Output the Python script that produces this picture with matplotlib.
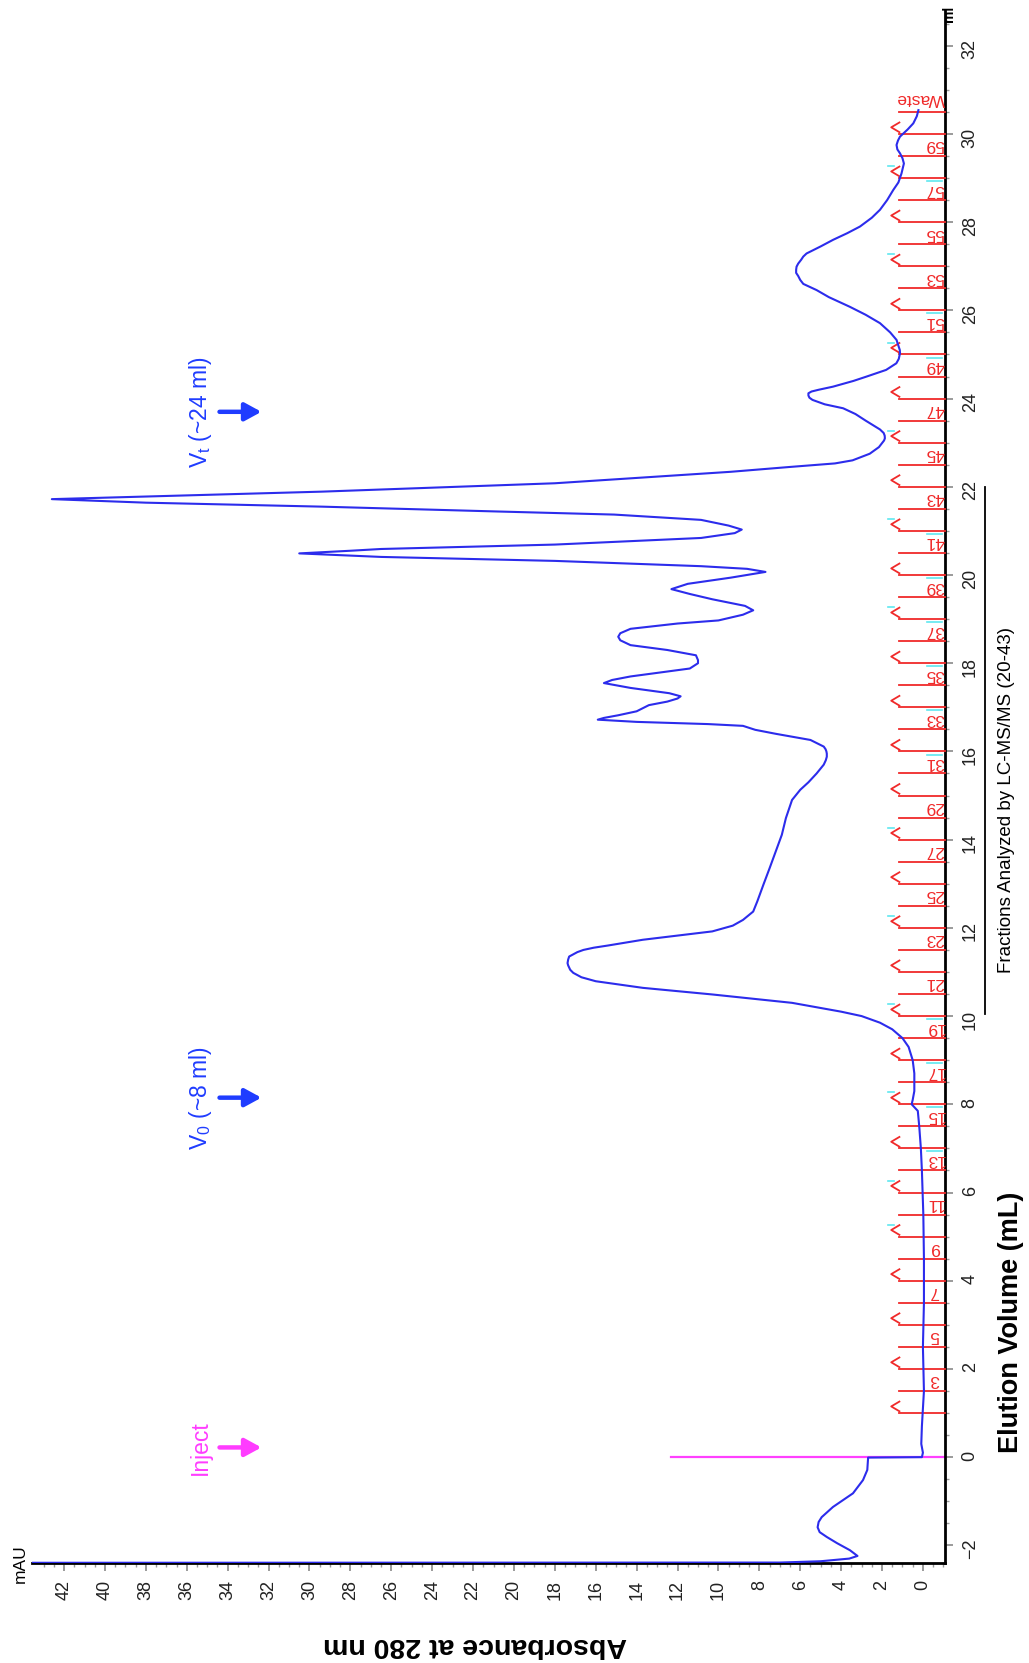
import numpy as np
import matplotlib
matplotlib.use("Agg")
import matplotlib.pyplot as plt

plt.rcParams['font.family'] = ['Liberation Sans', 'DejaVu Sans']
plt.rcParams['mathtext.fontset'] = 'custom'
plt.rcParams['mathtext.rm'] = 'Liberation Sans'
plt.rcParams['mathtext.it'] = 'Liberation Sans:italic'

# UV 280 nm trace: elution volume (mL) and absorbance (mAU)
volume = [-2.395, -2.39, -2.36, -2.30, -2.24, -2.11, -1.95, -1.81, -1.70, -1.59,
          -1.47, -1.36, -1.13, -0.82, -0.52, -0.29, -0.07, -0.01, 0.0, 0.1,
          0.3, 0.7, 1.5, 2.5, 3.5, 4.5, 5.5, 6.5, 7.0, 7.5,
          7.85, 8.0, 8.1, 8.3, 8.7, 9.0, 9.3, 9.5, 9.7, 9.85,
          10.0, 10.1, 10.3, 10.49, 10.64, 10.79, 10.88, 10.98, 11.05, 11.15,
          11.2, 11.28, 11.35, 11.4, 11.45, 11.5, 11.55, 11.6, 11.73, 11.92,
          12.05, 12.18, 12.37, 12.6, 12.98, 13.35, 13.73, 14.11, 14.49, 14.9,
          15.13, 15.3, 15.5, 15.7, 15.8, 15.88, 15.95, 16.0, 16.05, 16.11,
          16.26, 16.4, 16.49, 16.58, 16.62, 16.67, 16.72, 16.76, 16.82, 16.91,
          17.05, 17.13, 17.2, 17.25, 17.32, 17.44, 17.55, 17.62, 17.7, 17.88,
          18.0, 18.07, 18.18, 18.3, 18.41, 18.52, 18.6, 18.68, 18.78, 18.9,
          18.97, 19.1, 19.2, 19.3, 19.45, 19.57, 19.68, 19.8, 19.94, 20.07,
          20.14, 20.2, 20.32, 20.41, 20.49, 20.55, 20.59, 20.69, 20.84, 20.95,
          21.03, 21.12, 21.25, 21.37, 21.44, 21.55, 21.64, 21.72, 21.78, 21.89,
          22.08, 22.34, 22.45, 22.53, 22.6, 22.75, 22.9, 23.05, 23.1, 23.16,
          23.22, 23.3, 23.5, 23.65, 23.78, 23.87, 23.97, 24.02, 24.07, 24.12,
          24.16, 24.2, 24.27, 24.4, 24.5, 24.65, 24.8, 24.9, 25.03, 25.1,
          25.2, 25.33, 25.5, 25.71, 25.9, 26.08, 26.3, 26.46, 26.6, 26.69,
          26.78, 26.85, 26.92, 26.99, 27.06, 27.15, 27.22, 27.29, 27.45, 27.6,
          27.75, 27.9, 28.1, 28.28, 28.5, 28.73, 28.9, 29.1, 29.33, 29.45,
          29.56, 29.65, 29.75, 29.85, 29.94, 30.1, 30.24, 30.4, 30.54]
absorbance = [44.0, 7.0, 5.0, 3.6, 3.2, 3.57, 4.2, 4.7, 5.05, 5.15,
              5.1, 4.95, 4.4, 3.42, 2.93, 2.72, 2.69, 2.68, 0.05, 0.0,
              0.08, 0.05, -0.05, 0.0, -0.05, -0.05, -0.02, 0.05, 0.1, 0.18,
              0.25, 0.55, 0.5, 0.42, 0.42, 0.5, 0.7, 1.0, 1.5, 2.1,
              3.0, 4.0, 6.4, 10.3, 13.7, 16.0, 16.7, 17.1, 17.25, 17.35,
              17.38, 17.35, 17.3, 17.1, 16.9, 16.6, 16.1, 15.4, 13.7, 10.3,
              9.3, 8.8, 8.3, 8.1, 7.8, 7.5, 7.2, 6.9, 6.7, 6.4,
              6.0, 5.6, 5.2, 4.85, 4.75, 4.7, 4.7, 4.72, 4.76, 4.85,
              5.5, 7.2, 8.2, 8.8, 10.5, 14.0, 15.9, 15.6, 14.9, 14.0,
              13.4, 12.5, 12.0, 11.85, 12.4, 14.3, 15.6, 15.2, 14.3, 11.4,
              11.0, 11.0, 11.1, 12.5, 14.3, 14.8, 14.9, 14.8, 14.3, 12.0,
              10.0, 8.8, 8.3, 8.7, 10.3, 11.4, 12.3, 11.5, 9.4, 7.7,
              8.6, 10.85, 18.0, 26.5, 30.5, 28.0, 26.5, 18.0, 10.85, 9.2,
              8.86, 9.5, 10.85, 15.1, 20.8, 29.4, 38.0, 42.6, 38.0, 29.4,
              18.0, 9.4, 6.5, 4.3, 3.44, 2.6, 2.15, 1.9, 1.86, 1.87,
              1.92, 2.1, 2.8, 3.3, 3.9, 4.8, 5.4, 5.55, 5.6, 5.6,
              5.45, 5.1, 4.4, 3.4, 2.75, 1.8, 1.3, 1.18, 1.12, 1.13,
              1.2, 1.29, 1.6, 2.1, 2.8, 3.57, 4.6, 5.2, 5.85, 6.0,
              6.1, 6.2, 6.2, 6.18, 6.1, 5.95, 5.85, 5.69, 5.0, 4.39,
              3.7, 3.08, 2.5, 2.1, 1.75, 1.45, 1.2, 1.05, 0.93, 1.0,
              1.12, 1.25, 1.29, 1.22, 1.12, 0.75, 0.47, 0.3, 0.22]

# fraction collector: 0.5 mL fractions, odd numbers labelled, waste valve at the end
frac_first_edge = 1.0
frac_size = 0.5
frac_last_edge = 30.0
waste_volume = 30.5
frac_labels = list(range(3, 60, 2))
cyan_fracs = [13, 15, 17, 19, 31, 33, 35, 37, 39, 41, 49, 51, 57]
cyan_marks = [5, 6, 8, 10, 12, 14, 19, 21, 23, 25, 27, 29]

# injection mark and column volumes
inject_volume = 0.0
inject_height = 12.3
notes = ['Inject', r'V$_\mathregular{0}$ (~8 ml)', r'V$_\mathregular{t}$ (~24 ml)']
note_volumes = [0.22, 8.15, 23.7]
note_colors = ['#ff3cff', '#1f3cff', '#1f3cff']

trace_color = '#2c2cec'
frac_color = '#f02a2a'

fig = plt.figure(figsize=(10.29, 16.63), dpi=100)
ax = fig.add_axes([32 / 1029, 100 / 1663, 913 / 1029, 1553 / 1663])

ax.plot([-1.08, inject_height], [inject_volume, inject_volume], color='#ff40ff', lw=1.6, zorder=2)
ax.plot(absorbance, volume, color=trace_color, lw=1.5, zorder=4, solid_joinstyle='round')

# fraction boundaries
edges = np.arange(frac_first_edge, frac_last_edge + 0.01, frac_size)
for v in list(edges) + [waste_volume]:
    ax.plot([-1.08, 1.15], [v, v], color=frac_color, lw=1.3, zorder=3, clip_on=False)
for v in edges[::2]:
    ax.plot([1.15, 1.55, 1.15], [v + 0.04, v + 0.15, v + 0.26], color=frac_color, lw=1.3, zorder=3)
for n in frac_labels:
    ax.text(-0.58, frac_size * n + frac_size / 2, str(n), rotation=180, ha='center', va='center',
            color=frac_color, fontsize=12.5, zorder=3)
for n in cyan_fracs:
    v = frac_size * n + 0.43
    ax.plot([-0.95, -0.2], [v, v], color='#5fe8f0', lw=1.2, zorder=2)
for v in cyan_marks:
    ax.plot([1.4, 1.7], [v + 0.27, v + 0.27], color='#5fe8f0', lw=1.2, zorder=2)
ax.text(0.12, waste_volume + 0.3, 'Waste', rotation=180, ha='center', va='center',
        color=frac_color, fontsize=12.5, zorder=3)

# annotations with arrows
for label, v, c in zip(notes, note_volumes, note_colors):
    ax.text(35.35, v, label, rotation=90, ha='center', va='center', color=c, fontsize=16.5)
    ax.annotate('', xy=(32.35, v), xytext=(34.4, v),
                arrowprops=dict(arrowstyle='-|>,head_length=0.55,head_width=0.3', lw=3.2,
                                color=c, shrinkA=0, shrinkB=0, mutation_scale=18))

# bracket for the analysed fractions
ax.plot([-3.03, -3.03], [10.05, 22.0], color='black', lw=1.3, clip_on=False)

ax.set_xlim(43.57, -1.08)
ax.set_ylim(-2.40, 32.81)

for side in ['top', 'left']:
    ax.spines[side].set_visible(False)
for side in ['bottom', 'right']:
    ax.spines[side].set_linewidth(2.0)
    ax.spines[side].set_color('black')

ax.yaxis.tick_right()
ax.set_xticks(np.arange(0, 43, 2))
ax.set_xticks(np.arange(-1, 43.5, 0.5), minor=True)
ax.set_yticks(np.arange(-2, 33, 2))
ax.set_yticks(np.arange(-2.0, 32.6, 0.5), minor=True)
ax.tick_params(axis='both', which='major', direction='out', length=6, width=1.2,
               color='#8a8a8a', labelsize=13, labelcolor='#222222', labelrotation=90, pad=6)
ax.tick_params(axis='both', which='minor', direction='out', length=3, width=1.0, color='#9a9a9a')
ax.tick_params(axis='y', which='both', left=False, right=True)

fig.text(20 / 1029, 1 - 1564 / 1663, 'mAU', rotation=90, ha='center', va='center', fontsize=12.5)
fig.text(949 / 1029, 1 - 14 / 1663, 'ml', rotation=90, ha='center', va='center', fontsize=10,
         fontweight='bold')
fig.text(475 / 1029, 1 - 1645 / 1663, 'Absorbance at 280 nm', rotation=180, ha='center',
         va='center', fontsize=20.5, fontweight='bold')
fig.text(1011 / 1029, 1 - 1322 / 1663, 'Elution Volume (mL)', rotation=90, ha='center',
         va='center', fontsize=19.5, fontweight='bold')
fig.text(1007 / 1029, 1 - 800 / 1663, 'Fractions Analyzed by LC-MS/MS (20-43)', rotation=90,
         ha='center', va='center', fontsize=13.5)

fig.savefig('out.png', dpi=100)
